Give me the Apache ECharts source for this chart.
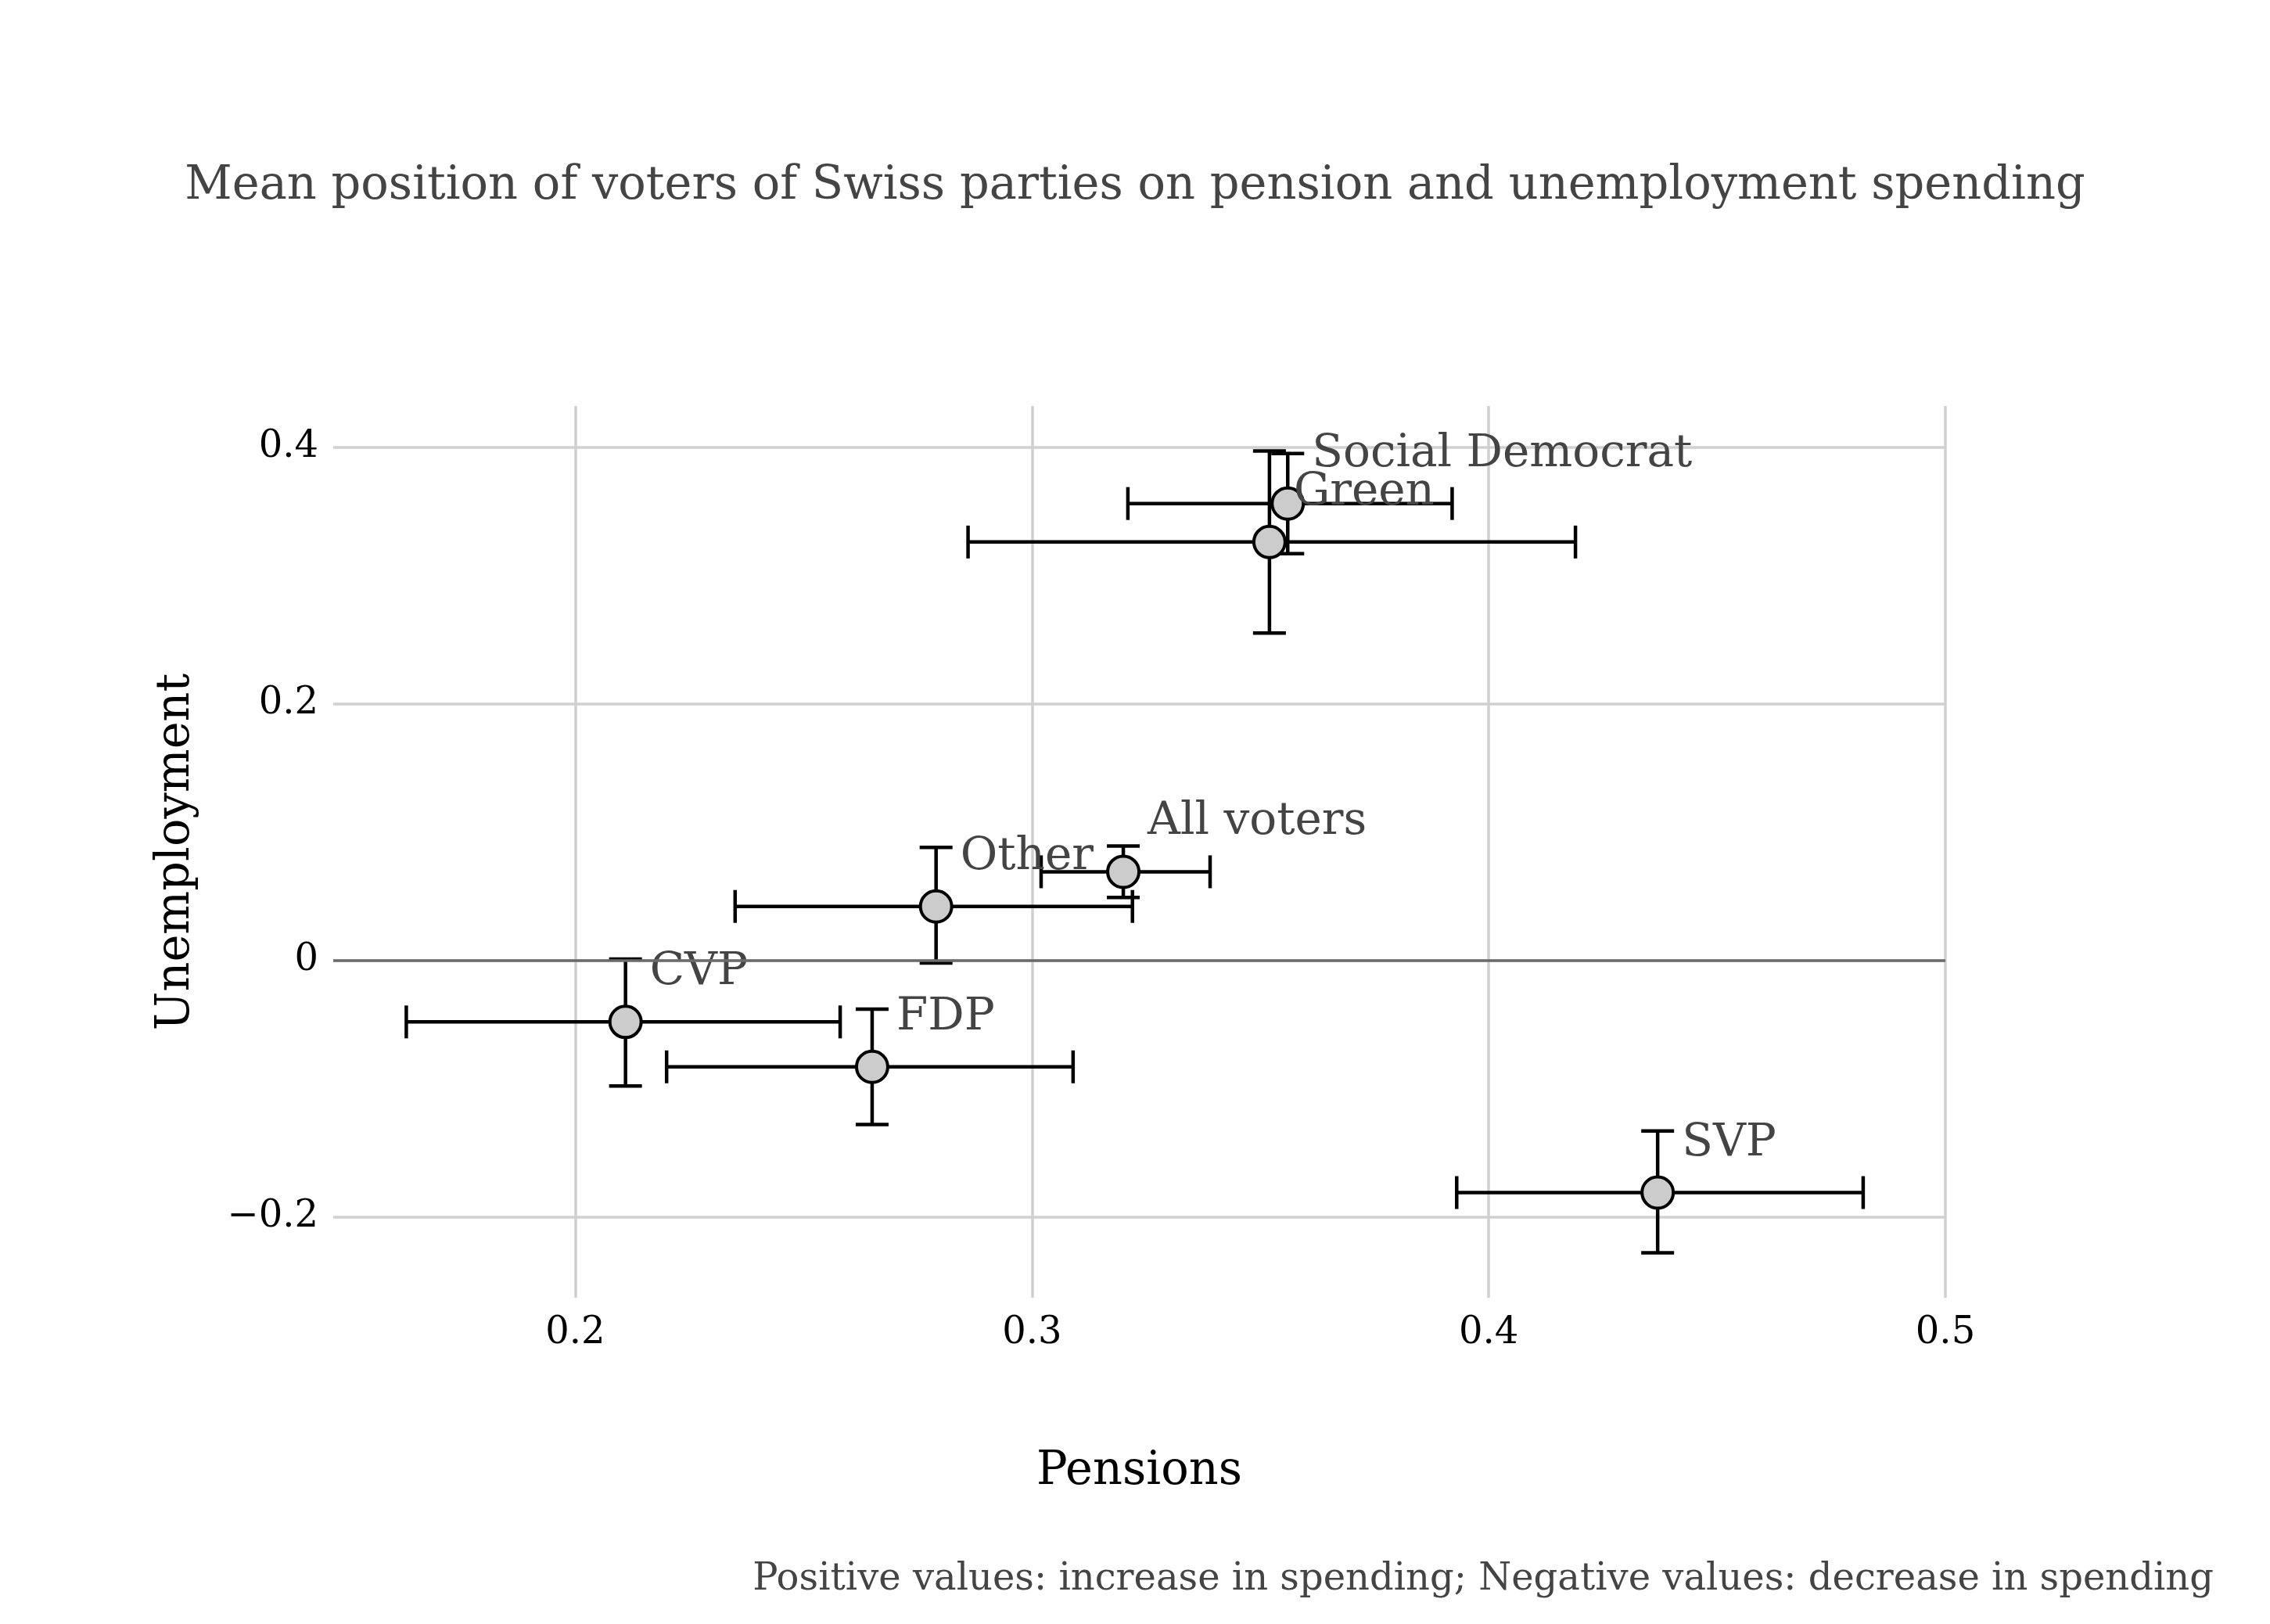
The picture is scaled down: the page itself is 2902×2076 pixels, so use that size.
<!DOCTYPE html>
<html>
<head>
<meta charset="utf-8">
<script src="https://cdn.jsdelivr.net/npm/echarts@6/dist/echarts.min.js"></script>
<style>
html, body { margin: 0; padding: 0; background: #fff; }
#chart { width: 2902px; height: 2076px; }
</style>
</head>
<body>
<div id="chart"></div>
<script>
// values
var parties = ['Social Democrat', 'Green', 'All voters', 'Other', 'CVP', 'FDP', 'SVP'];
var pensions = [0.356, 0.352, 0.320, 0.279, 0.211, 0.265, 0.437];
var pensionsLow = [0.321, 0.286, 0.302, 0.235, 0.163, 0.220, 0.393];
var pensionsHigh = [0.392, 0.419, 0.339, 0.322, 0.258, 0.309, 0.482];
var unemployment = [0.356, 0.326, 0.069, 0.042, -0.048, -0.083, -0.181];
var unemploymentLow = [0.317, 0.255, 0.049, -0.002, -0.098, -0.128, -0.228];
var unemploymentHigh = [0.395, 0.397, 0.089, 0.088, 0.001, -0.038, -0.133];
var xTicks = [0.2, 0.3, 0.4, 0.5];
var yTicks = [-0.2, 0, 0.2, 0.4];

var FONT = "'DejaVu Serif', serif";
var chart;

function buildPoints(){
	var pts = [];
	var bars = [];
	for(var i = 0; i < parties.length; i+=1){
		pts.push([pensions[i], unemployment[i], parties[i]]);
		bars.push([pensions[i], unemployment[i], pensionsLow[i], pensionsHigh[i], unemploymentLow[i], unemploymentHigh[i]]);
	}
	return {pts: pts, bars: bars};
}

function renderErrorBars(params, api){
	var x = api.value(0), y = api.value(1);
	var c = api.coord([x, y]);
	var l = api.coord([api.value(2), y]);
	var r = api.coord([api.value(3), y]);
	var b = api.coord([x, api.value(4)]);
	var t = api.coord([x, api.value(5)]);
	var cap = 21;
	var st = {stroke: '#000', lineWidth: 4.5};
	function seg(x1, y1, x2, y2){
		return {type: 'line', shape: {x1: x1, y1: y1, x2: x2, y2: y2}, style: st};
	}
	return {
		type: 'group',
		children: [
			seg(l[0], c[1], r[0], c[1]),
			seg(l[0], c[1] - cap, l[0], c[1] + cap),
			seg(r[0], c[1] - cap, r[0], c[1] + cap),
			seg(c[0], b[1], c[0], t[1]),
			seg(c[0] - cap, b[1], c[0] + cap, b[1]),
			seg(c[0] - cap, t[1], c[0] + cap, t[1])
		]
	};
}

function fmt(v){
	var s = String(Math.round(v * 10) / 10);
	return s.replace('-', '\u2212');
}

function initChart(){
	var d = buildPoints();
	chart = echarts.init(document.getElementById('chart'));
	var option = {
		animation: false,
		backgroundColor: '#fff',
		title: [{
			text: 'Mean position of voters of Swiss parties on pension and unemployment spending',
			left: 'center',
			top: 204,
			textStyle: {fontFamily: FONT, fontSize: 59, fontWeight: 'normal', color: '#444'}
		}, {
			text: 'Positive values: increase in spending; Negative values: decrease in spending',
			right: 67,
			top: 1991,
			textStyle: {fontFamily: FONT, fontSize: 48, fontWeight: 'normal', color: '#444'}
		}],
		grid: {left: 426, right: 415, top: 519, bottom: 417, outerBoundsMode: 'none'},
		xAxis: {
			type: 'value',
			min: 0.147,
			max: 0.5,
			name: 'Pensions',
			nameLocation: 'middle',
			nameGap: 193,
			nameTextStyle: {fontFamily: FONT, fontSize: 59, color: '#000'},
			axisLine: {show: false},
			axisTick: {show: false, customValues: xTicks},
			axisLabel: {customValues: xTicks, margin: 22, fontFamily: FONT, fontSize: 48, color: '#000', formatter: fmt},
			splitLine: {show: true, lineStyle: {color: '#d0d0d0', width: 3.5}}
		},
		yAxis: {
			type: 'value',
			min: -0.263,
			max: 0.432,
			name: 'Unemployment',
			nameLocation: 'middle',
			nameGap: 171,
			nameTextStyle: {fontFamily: FONT, fontSize: 59, color: '#000'},
			axisLine: {show: false},
			axisTick: {show: false, customValues: yTicks},
			axisLabel: {customValues: yTicks, margin: 19, fontFamily: FONT, fontSize: 48, color: '#000', formatter: fmt},
			splitLine: {show: true, lineStyle: {color: '#d0d0d0', width: 3.5}}
		},
		series: [{
			type: 'custom',
			renderItem: renderErrorBars,
			data: d.bars,
			encode: {x: [0, 2, 3], y: [1, 4, 5]},
			silent: true,
			z: 2
		}, {
			type: 'scatter',
			data: d.pts,
			symbol: 'circle',
			symbolSize: 40,
			itemStyle: {color: '#cccccc', borderColor: '#000', borderWidth: 4, opacity: 1},
			label: {
				show: true,
				position: [53, -12],
				align: 'left',
				verticalAlign: 'bottom',
				formatter: function(p){ return p.data[2]; },
				fontFamily: FONT,
				fontSize: 58,
				color: '#444'
			},
			markLine: {
				silent: true,
				symbol: 'none',
				label: {show: false},
				lineStyle: {color: '#6b6b6b', width: 3.5, type: 'solid'},
				data: [{yAxis: 0}]
			},
			z: 3
		}]
	};
	chart.setOption(option);
}

(function init(){
	initChart();
})();
</script>
</body>
</html>
